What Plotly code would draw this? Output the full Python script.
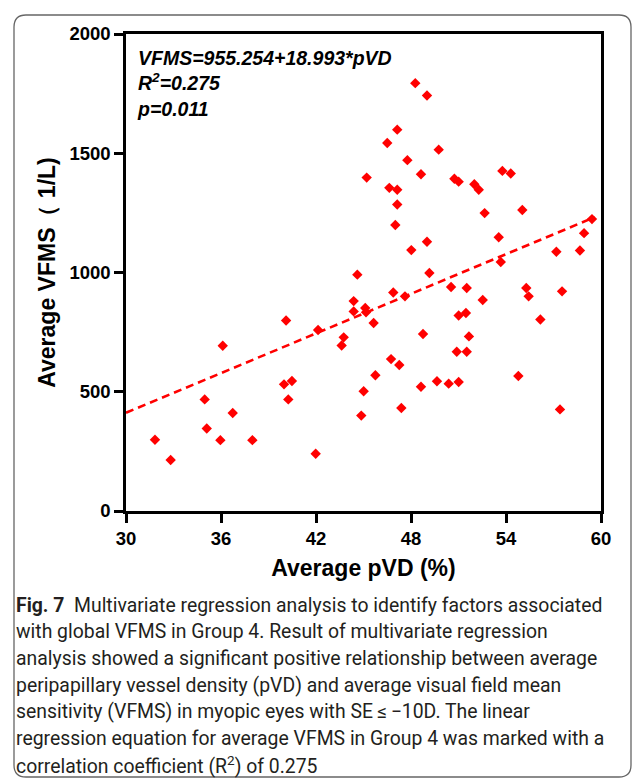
import plotly.graph_objects as go

# ---- data ----
pvd = [45.20, 44.61, 48.27, 49.01, 47.13, 46.50, 49.75, 47.77, 48.63, 46.63,
       47.13, 50.74, 51.01, 52.00, 52.28, 53.77, 54.30, 47.13, 52.65, 55.03,
       47.01, 53.54, 59.43, 58.93, 49.01, 48.02, 57.18, 58.67, 53.67, 49.16,
       44.38, 44.38, 45.11, 45.16, 40.11, 42.13, 43.75, 43.62, 36.11, 39.98,
       40.48, 34.97, 40.25, 36.74, 45.01, 44.86, 35.10, 31.83, 35.96, 37.98,
       32.82, 41.98, 50.53, 51.52, 46.88, 47.62, 52.53, 55.28, 55.43, 57.54,
       45.64, 51.01, 51.47, 56.17, 48.76, 51.66, 50.89, 51.52, 46.74, 47.26,
       45.75, 54.78, 48.63, 49.64, 50.38, 51.01, 47.39, 57.41]
vfms = [1398, 991, 1794, 1742, 1599, 1543, 1515, 1471, 1412, 1355,
        1347, 1393, 1381, 1370, 1347, 1426, 1415, 1285, 1249, 1262,
        1199, 1148, 1224, 1165, 1129, 1094, 1087, 1092, 1044, 998,
        880, 837, 851, 833, 799, 759, 728, 694, 693, 531,
        545, 468, 468, 411, 502, 400, 346, 299, 297, 297,
        214, 240, 939, 935, 916, 900, 885, 935, 900, 921,
        788, 820, 830, 803, 742, 732, 668, 668, 637, 612,
        569, 566, 521, 544, 534, 541, 432, 426]
fit_x = [30.0, 59.6]
fit_y = [412, 1232]
x_ticks = [30, 36, 42, 48, 54, 60]
x_tick_labels = ["30", "36", "42", "48", "54", "60"]
y_ticks = [0, 500, 1000, 1500, 2000]
y_tick_labels = ["0", "500", "1000", "1500", "2000"]

caption_lines = [
    "<b>Fig. 7</b>  Multivariate regression analysis to identify factors associated",
    "with global VFMS in Group 4. Result of multivariate regression",
    "analysis showed a significant positive relationship between average",
    "peripapillary vessel density (pVD) and average visual field mean",
    "sensitivity (VFMS) in myopic eyes with SE\u2009\u2264\u2009\u221210D. The linear",
    "regression equation for average VFMS in Group 4 was marked with a",
    "correlation coefficient (R<sup>2</sup>) of 0.275",
]

W, H = 634, 781
L, R, T, B = 126, 33, 34, 270
pw, ph = W - L - R, H - T - B

def px2paper_x(px):
    return (px - L) / pw

def px2paper_y(py):
    return (H - B - py) / ph

fig = go.Figure()
fig.add_trace(go.Scatter(
    x=fit_x, y=fit_y, mode="lines",
    line=dict(color="#ff0000", width=2.6, dash="8px,5px"),
    hoverinfo="skip", showlegend=False))
fig.add_trace(go.Scatter(
    x=pvd, y=vfms, mode="markers",
    marker=dict(symbol="diamond", size=8, color="#ff0000", line=dict(width=0)),
    showlegend=False))

tick_font = dict(family="Liberation Sans, Arial", size=18.5, color="black")
title_font = dict(family="Liberation Sans, Arial", size=23, color="black")
fig.update_xaxes(range=[30, 60], tickvals=x_ticks,
                 ticktext=[f"<b>{t}</b>" for t in x_tick_labels],
                 showgrid=False, zeroline=False,
                 showline=True, linecolor="black", linewidth=2.5, mirror=True,
                 ticks="outside", ticklen=9, tickwidth=2.5, tickcolor="black",
                 tickfont=tick_font,
                 title=dict(text="<b>Average pVD (%)</b>", standoff=12, font=title_font))
fig.update_yaxes(range=[0, 2000], tickvals=y_ticks,
                 ticktext=[f"<b>{t}</b>" for t in y_tick_labels],
                 showgrid=False, zeroline=False,
                 showline=True, linecolor="black", linewidth=2.5, mirror=True,
                 ticks="outside", ticklen=9, tickwidth=2.5, tickcolor="black",
                 tickfont=tick_font,
                 title=dict(text="<b>Average VFMS\uff08 1/L)</b>", standoff=8, font=title_font))

annotations = [dict(
    xref="paper", yref="paper", x=px2paper_x(135), y=px2paper_y(45),
    xanchor="left", yanchor="top", align="left", showarrow=False,
    text="<b><i>VFMS=955.254+18.993*pVD<br>R<sup>2</sup>=0.275<br>p=0.011</i></b>",
    font=dict(family="Liberation Sans, Arial", size=19.5, color="black"))]

for i, line in enumerate(caption_lines):
    annotations.append(dict(
        xref="paper", yref="paper", x=px2paper_x(14), y=px2paper_y(605 + 26.7 * i),
        xanchor="left", yanchor="middle", align="left", showarrow=False,
        text=line,
        font=dict(family="Roboto", size=19.4, color="#231f20")))

# outer rounded frame
x0, x1 = px2paper_x(14), px2paper_x(631)
y0, y1 = px2paper_y(15), px2paper_y(777)
rx, ry = 12 / pw, 12 / ph
path = (f"M {x0+rx} {y0} L {x1-rx} {y0} Q {x1} {y0} {x1} {y0-ry} "
        f"L {x1} {y1+ry} Q {x1} {y1} {x1-rx} {y1} "
        f"L {x0+rx} {y1} Q {x0} {y1} {x0} {y1+ry} "
        f"L {x0} {y0-ry} Q {x0} {y0} {x0+rx} {y0} Z")

fig.update_layout(
    width=W, height=H, margin=dict(l=L, r=R, t=T, b=B, autoexpand=False),
    paper_bgcolor="white", plot_bgcolor="white",
    annotations=annotations,
    shapes=[dict(type="path", xref="paper", yref="paper", path=path,
                 line=dict(color="#666", width=1.3), layer="below")],
)
fig.write_html("out.html")
